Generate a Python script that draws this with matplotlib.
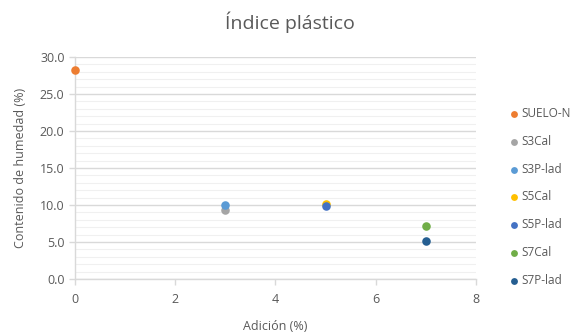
import matplotlib
matplotlib.use('Agg')
import matplotlib.pyplot as plt
from matplotlib.ticker import MultipleLocator, FormatStrFormatter

# series del grafico (adicion %, contenido de humedad %)
series   = ['SUELO-N', 'S3Cal', 'S3P-lad', 'S5Cal', 'S5P-lad', 'S7Cal', 'S7P-lad']
adicion  = [0, 3, 3, 5, 5, 7, 7]
humedad  = [28.2, 9.3, 10.0, 10.1, 9.8, 7.1, 5.1]
colores  = ['#ED7D31', '#A5A5A5', '#5B9BD5', '#FFC000', '#4472C4', '#70AD47', '#255E91']

plt.rcParams['font.family'] = ['Open Sans', 'DejaVu Sans']
TXT = '#595959'
GRID = '#D9D9D9'

fig = plt.figure(figsize=(5.71, 3.36), dpi=100)
ax = fig.add_axes([0.1313, 0.1696, 0.7023, 0.6608])

for x, y, c, lab in zip(adicion, humedad, colores, series):
    ax.scatter([x], [y], s=38, color=c, label=lab, zorder=3, linewidths=0,
               clip_on=False)

ax.set_xlim(0, 8)
ax.set_ylim(0, 30)
ax.xaxis.set_major_locator(MultipleLocator(2))
ax.yaxis.set_major_locator(MultipleLocator(5))
ax.yaxis.set_minor_locator(MultipleLocator(1))
ax.yaxis.set_major_formatter(FormatStrFormatter('%.1f'))

ax.grid(which='major', axis='y', color=GRID, lw=1.0, zorder=0)
ax.grid(which='minor', axis='y', color='#F0F0F0', lw=0.8, zorder=0)
ax.set_axisbelow(True)

for s in ['top', 'right']:
    ax.spines[s].set_visible(False)
for s in ['left', 'bottom']:
    ax.spines[s].set_color(GRID)
    ax.spines[s].set_linewidth(1.0)

ax.tick_params(axis='both', which='major', colors=GRID, labelcolor=TXT,
               labelsize=9, length=4, width=1.0, direction='out')
ax.tick_params(axis='y', which='minor', length=0)
ax.tick_params(axis='x', pad=6)

ax.set_xlabel('Adición (%)', fontsize=9, color=TXT, labelpad=10)
ax.set_ylabel('Contenido de humedad (%)', fontsize=9, color=TXT, labelpad=9)
fig.text(0.508, 0.935, 'Índice plástico', ha='center', va='center',
         fontsize=14, color=TXT)

leg = fig.legend(loc='upper left', bbox_to_anchor=(0.878, 0.695), frameon=False,
                 fontsize=8.5, labelcolor=TXT, handletextpad=0.0,
                 labelspacing=1.25, borderaxespad=0, handlelength=1.3,
                 markerscale=0.8)

fig.savefig('out.png', dpi=100)
